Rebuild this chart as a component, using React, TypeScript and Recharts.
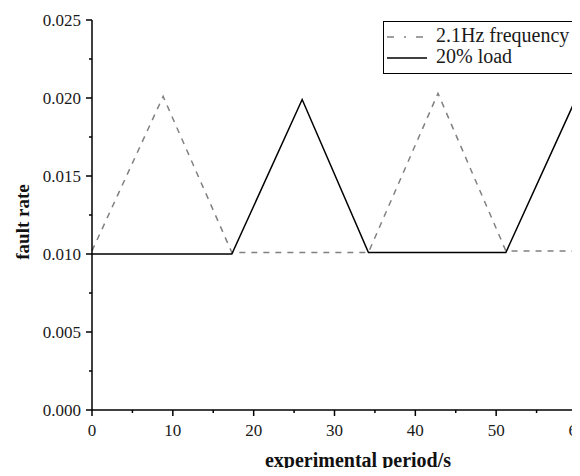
import React from 'react';
import { LineChart, Line, XAxis, YAxis, Legend, Label } from 'recharts';

const freqX = [0, 8.8, 17.3, 34.2, 42.8, 51.2, 60];
const freqY = [0.0102, 0.0201, 0.0101, 0.0101, 0.0203, 0.0102, 0.0102];
const loadX = [0, 17.3, 26, 34.2, 51.2, 60];
const loadY = [0.01, 0.01, 0.0199, 0.0101, 0.0101, 0.0201];

const xTicks = [0, 5, 10, 15, 20, 25, 30, 35, 40, 45, 50, 55, 60];
const xMajor = [0, 10, 20, 30, 40, 50, 60];
const yTicks = [0, 0.0025, 0.005, 0.0075, 0.01, 0.0125, 0.015, 0.0175, 0.02, 0.0225, 0.025];
const yMajor = [0, 0.005, 0.01, 0.015, 0.02, 0.025];

const SERIES_FREQ = '2.1Hz frequency';
const SERIES_LOAD = '20% load';

const freqData = freqX.map((x, i) => ({ x, y: freqY[i] }));
const loadData = loadX.map((x, i) => ({ x, y: loadY[i] }));

const FONT = '"Liberation Serif", "Times New Roman", serif';

const isMajor = (arr: number[], v: number) => arr.some((m) => Math.abs(m - v) < 1e-9);

const YTick = (props: any) => {
  const { x, y, payload } = props;
  const major = isMajor(yMajor, payload.value);
  return (
    <g>
      <line x1={x} x2={x - (major ? 6 : 3)} y1={y} y2={y} stroke="#000" strokeWidth={1.5} />
      {major && (
        <text x={x - 11} y={y} textAnchor="end" dominantBaseline="central" fontFamily={FONT} fontSize={17} fill="#1a1a1a">
          {payload.value.toFixed(3)}
        </text>
      )}
    </g>
  );
};

const XTick = (props: any) => {
  const { x, y, payload } = props;
  const major = isMajor(xMajor, payload.value);
  return (
    <g>
      <line x1={x} x2={x} y1={y} y2={y + (major ? 6 : 3)} stroke="#000" strokeWidth={1.5} />
      {major && (
        <text x={x} y={y + 26} textAnchor="middle" fontFamily={FONT} fontSize={17} fill="#1a1a1a">
          {payload.value}
        </text>
      )}
    </g>
  );
};

const renderLegend = () => (
  <div
    style={{
      position: 'relative',
      border: '1.5px solid #000',
      background: '#fff',
      width: 193,
      height: 53,
      boxSizing: 'border-box',
      fontFamily: FONT,
      fontSize: 20,
      color: '#1a1a1a',
    }}
  >
    <svg width={44} height={53} style={{ position: 'absolute', left: 0, top: 0 }}>
      <line x1={3} x2={44} y1={15} y2={15} stroke="#808080" strokeWidth={1.5} strokeDasharray="7 10 2 10" />
      <line x1={3} x2={43} y1={36} y2={36} stroke="#000" strokeWidth={1.5} />
    </svg>
    <div style={{ position: 'absolute', left: 52, top: 3, lineHeight: '21px', whiteSpace: 'nowrap' }}>
      <div>{SERIES_FREQ}</div>
      <div>{SERIES_LOAD}</div>
    </div>
  </div>
);

export default function App() {
  return (
    <div style={{ margin: -8, width: 580, height: 476, overflow: 'hidden', background: '#fff', position: 'relative' }}>
      <LineChart width={580} height={476} margin={{ top: 20, right: 3, left: 0, bottom: 0 }}>
        <XAxis
          type="number"
          dataKey="x"
          domain={[0, 60]}
          ticks={xTicks}
          interval={0}
          height={66}
          tickSize={0}
          tickMargin={0}
          tick={<XTick />}
          axisLine={{ stroke: '#000', strokeWidth: 1.5 }}
          allowDuplicatedCategory={false}
        >
          <Label
            content={() => (
              <text x={358} y={467} textAnchor="middle" fontFamily={FONT} fontSize={20} fontWeight="bold" fill="#111">
                experimental period/s
              </text>
            )}
          />
        </XAxis>
        <YAxis
          type="number"
          dataKey="y"
          domain={[0, 0.025]}
          ticks={yTicks}
          interval={0}
          width={92}
          tickSize={0}
          tickMargin={0}
          tick={<YTick />}
          axisLine={{ stroke: '#000', strokeWidth: 1.5 }}
        >
          <Label
            content={() => (
              <text
                x={22}
                y={222}
                transform="rotate(-90 22 222)"
                textAnchor="middle"
                dominantBaseline="central"
                fontFamily={FONT}
                fontSize={19}
                fontWeight="bold"
                fill="#111"
              >
                fault rate
              </text>
            )}
          />
        </YAxis>
        <Legend
          layout="vertical"
          align="center"
          verticalAlign="middle"
          content={renderLegend}
          wrapperStyle={{ position: 'absolute', left: 383, top: 21, width: 193, height: 53 }}
        />
        <Line
          data={freqData}
          dataKey="y"
          name={SERIES_FREQ}
          stroke="#808080"
          strokeWidth={1.5}
          strokeDasharray="6 6"
          dot={false}
          activeDot={false}
          isAnimationActive={false}
          type="linear"
        />
        <Line
          data={loadData}
          dataKey="y"
          name={SERIES_LOAD}
          stroke="#000"
          strokeWidth={1.5}
          dot={false}
          activeDot={false}
          isAnimationActive={false}
          type="linear"
        />
      </LineChart>
    </div>
  );
}
